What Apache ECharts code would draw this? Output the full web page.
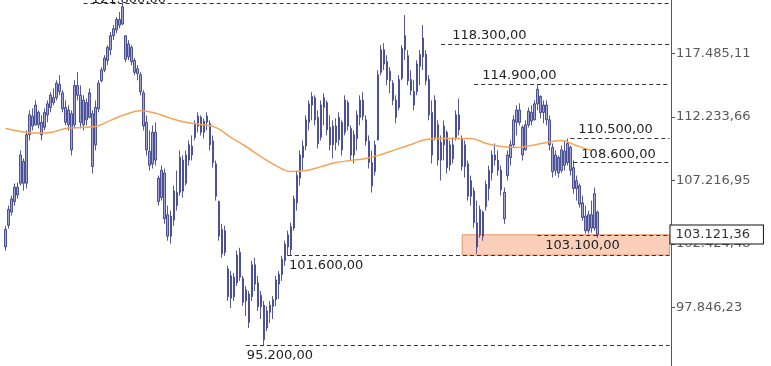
<!DOCTYPE html>
<html><head><meta charset="utf-8">
<script src="https://cdn.jsdelivr.net/npm/echarts@6/dist/echarts.min.js"></script>
<style>html,body{margin:0;padding:0;background:#fff}#c{width:771px;height:366px}</style>
</head><body><div id="c"></div>
<script>
// prices in thousands: [open, close, low, high]
const ohlc = [
[102.2,103.5,101.92,103.77],[103.8,105.0,103.55,105.29],[104.8,105.8,104.53,106.05],[105.6,106.7,105.29,106.98],[106.7,106.1,105.82,107.06],
[107.0,109.2,106.82,109.56],[108.7,107.0,106.43,108.93],[107.0,110.8,106.59,111.15],[110.8,112.4,110.35,112.77],[112.3,111.5,111.15,112.93],
[111.6,113.2,111.55,113.58],[112.6,111.6,111.31,112.77],[111.8,110.8,110.35,112.36],[111.4,112.6,111.15,112.93],[112.4,113.3,111.80,113.58],
[113.0,114.0,112.61,114.25],[113.8,113.4,113.18,114.57],[113.8,115.0,113.58,115.24],[114.9,114.3,114.00,115.66],[114.2,112.9,112.61,114.41],
[113.0,111.8,111.55,113.58],[111.6,112.8,111.15,113.18],[112.5,109.6,109.16,112.77],[111.6,114.8,111.31,115.24],[114.8,114.0,113.58,115.91],
[114.0,111.8,111.31,114.82],[111.6,113.6,111.15,114.00],[113.4,112.0,111.55,113.74],[112.2,114.2,112.12,114.57],[112.5,108.3,107.75,112.77],
[110.0,113.0,109.56,113.58],[112.9,115.0,112.61,115.24],[115.2,116.1,115.07,116.33],[116.1,117.1,115.91,117.34],[116.9,118.0,116.50,118.19],
[117.8,119.0,117.34,119.31],[119.0,119.6,118.62,119.91],[119.5,120.4,119.22,120.61],[120.4,119.9,119.65,121.05],[120.0,121.5,119.91,121.8],
[119.0,117.0,116.75,119.05],[117.2,118.3,116.92,118.62],[118.0,116.8,116.50,118.19],[116.9,115.9,115.66,117.09],[115.8,116.2,115.24,116.50],
[115.7,114.3,114.00,115.91],[114.2,111.5,111.15,114.41],[111.8,109.6,109.16,112.36],[109.5,108.4,107.98,111.15],[108.5,111.0,108.14,111.55],
[111.0,108.8,108.37,111.80],[107.4,105.6,105.29,107.59],[105.9,108.0,105.67,108.37],[107.8,104.3,103.92,108.14],[104.6,103.0,102.66,105.29],
[103.0,104.5,102.44,104.91],[104.2,106.4,103.77,106.82],[106.3,105.3,104.91,107.98],[106.3,109.0,106.05,109.56],[108.8,106.4,105.90,109.16],
[107.0,109.2,106.82,109.56],[108.8,110.0,108.37,110.35],[109.9,109.2,108.77,110.75],[110.6,111.7,110.35,111.96],[111.5,112.3,110.99,112.61],
[112.2,111.0,110.75,112.36],[111.0,111.9,110.51,112.12],[111.8,112.3,111.15,112.61],[111.7,110.0,109.56,111.96],[110.3,108.6,108.21,110.75],
[108.5,106.0,105.67,108.77],[105.6,103.0,102.66,105.67],[103.5,101.7,101.40,103.92],[101.8,103.4,101.55,103.77],[100.6,98.6,98.30,100.82],
[98.5,100.1,97.80,100.45],[100.0,98.6,98.30,100.31],[99.6,101.6,99.37,101.92],[101.8,100.0,99.73,102.14],[99.9,98.2,97.94,100.09],
[98.3,99.1,97.24,99.37],[98.8,96.8,96.40,99.01],[98.6,100.9,98.30,101.18],[100.9,99.5,99.01,101.40],[99.6,97.9,97.59,100.09],
[97.9,98.7,97.03,99.01],[98.0,95.6,95.20,98.30],[96.4,97.6,96.19,97.94],[97.5,98.0,96.75,98.30],[97.9,98.4,97.03,98.66],
[98.4,99.8,97.94,100.09],[99.5,100.2,98.44,100.45],[100.2,101.3,99.73,101.55],[101.2,102.4,100.82,102.66],[102.2,103.1,101.55,103.40],
[102.0,103.7,101.60,104.00],[103.6,105.8,103.40,106.05],[105.5,107.6,104.91,107.98],[107.4,109.2,106.82,109.56],[109.0,109.9,107.98,110.35],
[109.9,112.0,109.56,112.36],[111.8,113.3,111.15,113.58],[113.2,113.9,111.96,114.25],[113.8,112.0,111.55,114.00],[112.2,110.1,109.72,112.77],
[110.6,113.2,110.35,113.58],[113.0,113.8,111.55,114.16],[113.4,111.2,110.75,113.58],[111.4,110.0,109.56,112.36],[110.0,111.5,108.93,111.96],
[111.5,110.2,109.56,112.12],[110.4,112.2,109.95,112.61],[111.8,109.6,109.16,111.96],[111.0,113.6,110.75,114.00],[113.4,111.5,111.15,113.58],
[111.3,109.2,108.77,111.55],[109.2,110.8,108.53,111.15],[110.5,112.4,109.56,112.77],[112.2,113.6,111.55,114.00],[113.6,112.3,111.96,114.25],
[112.0,110.3,109.95,112.36],[110.3,108.6,108.14,110.75],[108.6,106.8,106.28,109.56],[107.9,110.0,107.59,110.35],[110.4,115.7,110.35,116.08],
[115.9,117.8,115.66,118.19],[117.8,116.6,116.08,118.36],[116.8,115.3,114.82,117.34],[115.2,116.0,114.16,116.33],[115.0,113.6,113.18,115.24],
[113.6,112.2,111.72,114.00],[113.0,115.3,112.77,115.66],[115.4,117.9,115.24,118.19],[117.8,119.0,116.92,120.78],[117.3,115.2,114.82,117.77],
[115.3,114.4,114.00,116.08],[114.3,113.2,112.77,115.24],[114.3,116.6,114.00,116.92],[116.4,117.4,114.82,117.77],[117.2,118.8,116.08,119.91],
[117.4,115.2,114.82,117.77],[115.3,112.4,111.96,115.66],[112.6,109.2,108.53,113.58],[110.6,113.6,110.35,114.00],[111.6,108.8,108.37,111.96],
[108.8,110.2,107.21,110.75],[110.0,111.5,108.77,111.96],[111.0,108.2,107.75,111.15],[108.4,110.0,107.98,110.35],[110.0,108.9,108.53,110.59],
[110.6,112.4,110.35,112.77],[112.4,111.2,110.75,113.74],[110.5,108.3,107.98,110.75],[108.3,110.0,107.44,110.35],[108.5,106.0,105.67,108.77],
[106.0,107.2,105.29,107.59],[106.4,104.0,103.62,106.67],[104.0,102.2,101.70,105.67],[103.1,105.0,102.88,105.29],[104.8,103.0,102.66,104.91],
[105.2,106.9,104.91,107.21],[106.6,108.0,105.67,108.37],[107.8,109.2,107.21,109.56],[109.2,108.8,108.37,110.11],[108.8,108.0,107.59,109.56],
[108.0,106.5,106.05,108.37],[106.3,104.3,103.92,106.67],[107.6,109.2,107.21,109.56],[109.0,110.0,108.37,110.35],[110.0,112.0,109.79,112.36],
[111.8,112.8,110.75,113.18],[112.8,111.8,111.55,113.34],[111.4,109.2,108.77,111.55],[109.6,111.6,109.56,111.96],[111.6,112.7,111.39,113.01],
[112.6,111.9,111.55,113.18],[112.0,113.3,111.96,113.58],[113.3,114.5,112.77,114.9],[113.9,112.6,112.12,114.00],[112.6,113.2,111.72,113.58],
[113.2,112.0,111.55,113.58],[112.0,110.0,109.56,112.36],[109.8,107.9,107.44,110.11],[108.0,109.2,107.59,109.56],[109.0,107.8,107.44,109.16],
[108.0,109.6,107.82,109.95],[109.5,108.4,107.98,110.35],[108.6,110.1,108.37,110.5],[109.8,108.0,107.59,109.95],[108.2,106.6,106.20,108.77],
[106.6,107.2,105.67,107.59],[106.8,105.4,105.14,106.98],[105.5,104.4,104.15,106.05],[104.5,103.4,103.18,105.29],[103.4,104.6,103.18,104.91],
[104.6,103.6,103.25,105.67],[103.6,106.2,103.40,106.67],[104.8,103.12136,102.88,104.91]
];
// moving average readings (bar index, value in thousands)
const maAt = [0,5,10,15,20,25,30,35,40,45,50,55,60,65,70,75,80,85,90,95,100,105,110,115,120,125,130,135,140,145,150,155,160,165,170,175,180,185,190,195];
const maValues = [111.31,111.07,110.95,110.99,111.31,111.39,111.47,111.96,112.45,112.73,112.53,112.12,111.80,111.63,111.39,110.59,109.87,109.08,108.37,107.90,
107.98,108.29,108.61,108.77,108.93,109.24,109.64,110.03,110.43,110.51,110.51,110.51,110.11,109.87,109.79,109.95,110.19,110.35,109.95,109.56];
// horizontal levels
const levelValues = [121.8, 118.3, 114.9, 110.5, 108.6, 103.1, 101.6, 95.2];
const levelFrom   = [26, 145, 156, 188, 189, 177, 94, 80];
const levelBelow  = [false, false, false, false, false, true, true, true];
const lastPrice = 103.12136;
const zoneTop = 103.1, zoneBottom = 101.6, zoneFrom = 152;
const axisTicks = [97.84623, 102.42448, 107.21695, 112.23366, 117.48511];
const axisMin = 93.80, axisMax = 122.10;
const slotCount = 222;
const categories = Array.from({length: slotCount}, (_, i) => String(i + 1));

function fmt(n) {
  const s = n.toFixed(2).split('.');
  return s[0].replace(/\B(?=(\d{3})+(?!\d))/g, '.') + ',' + s[1];
}
const L = Math.log;
const last = slotCount - 1;
const font = {fontFamily: 'DejaVu Sans', fontSize: 13, color: '#222'};

const levelLines = levelValues.map((v, k) => {
  const below = levelBelow[k];
  const dx = (k === 6 || k === 7) ? 1 : (k === 1 ? 11 : 8);
  const dy = below ? 4 : (k === 0 ? -3 : 2);
  return [
    {coord: [levelFrom[k], L(v)],
     label: Object.assign({show: true, formatter: fmt(v * 1000),
        position: below ? 'insideStartBottom' : 'insideStartTop',
        distance: [dx, dy]}, font)},
    {coord: [last, L(v)]}
  ];
});
levelLines.push([
  {coord: [197, L(lastPrice)], lineStyle: {color: 'rgba(0,0,0,0)', width: 0},
   label: Object.assign({}, font, {show: true, position: 'end', formatter: fmt(lastPrice * 1000),
     backgroundColor: '#fff', borderColor: '#111', borderWidth: 1, padding: [3, 13, 2, 5], distance: 1, color: '#333'})},
  {coord: [last, L(lastPrice)]}
]);

const chart = echarts.init(document.getElementById('c'), null, {renderer: 'canvas'});
chart.setOption({
  animation: false,
  backgroundColor: '#fff',
  grid: {left: 4, right: 100, top: 0, bottom: 0, containLabel: false},
  xAxis: {type: 'category', data: categories, boundaryGap: true, show: false},
  yAxis: {
    type: 'value', position: 'right', min: L(axisMin), max: L(axisMax), scale: true,
    axisLine: {show: true, onZero: false, lineStyle: {color: '#555', width: 1}},
    axisTick: {show: true, length: 4, lineStyle: {color: '#555'}, customValues: axisTicks.map(L)},
    axisLabel: {show: true, color: '#5a5a5a', fontFamily: 'DejaVu Sans', fontSize: 13, margin: 5,
      customValues: axisTicks.map(L), formatter: v => fmt(Math.exp(v) * 1000)},
    splitLine: {show: false}
  },
  series: [
    {
      type: 'candlestick', data: ohlc.map(r => r.map(L)), barWidth: 2,
      itemStyle: {color: '#a2a6d6', color0: '#a2a6d6', borderColor: '#2a307c', borderColor0: '#2a307c', borderWidth: 0.8},
      markLine: {silent: true, symbol: ['none', 'none'], animation: false,
        lineStyle: {type: [4, 3], color: '#333', width: 1}, data: levelLines},
      markArea: {silent: true,
        itemStyle: {color: 'rgba(246,168,128,0.55)', borderColor: '#e39772', borderWidth: 1},
        data: [[{coord: [zoneFrom, L(zoneTop)]}, {coord: [last, L(zoneBottom)]}]]}
    },
    {
      type: 'line', data: maAt.map((x, k) => [x, L(maValues[k])]), smooth: 0.4, showSymbol: false,
      lineStyle: {color: '#f3a457', width: 1.5}, z: 3
    }
  ]
});
</script></body></html>
